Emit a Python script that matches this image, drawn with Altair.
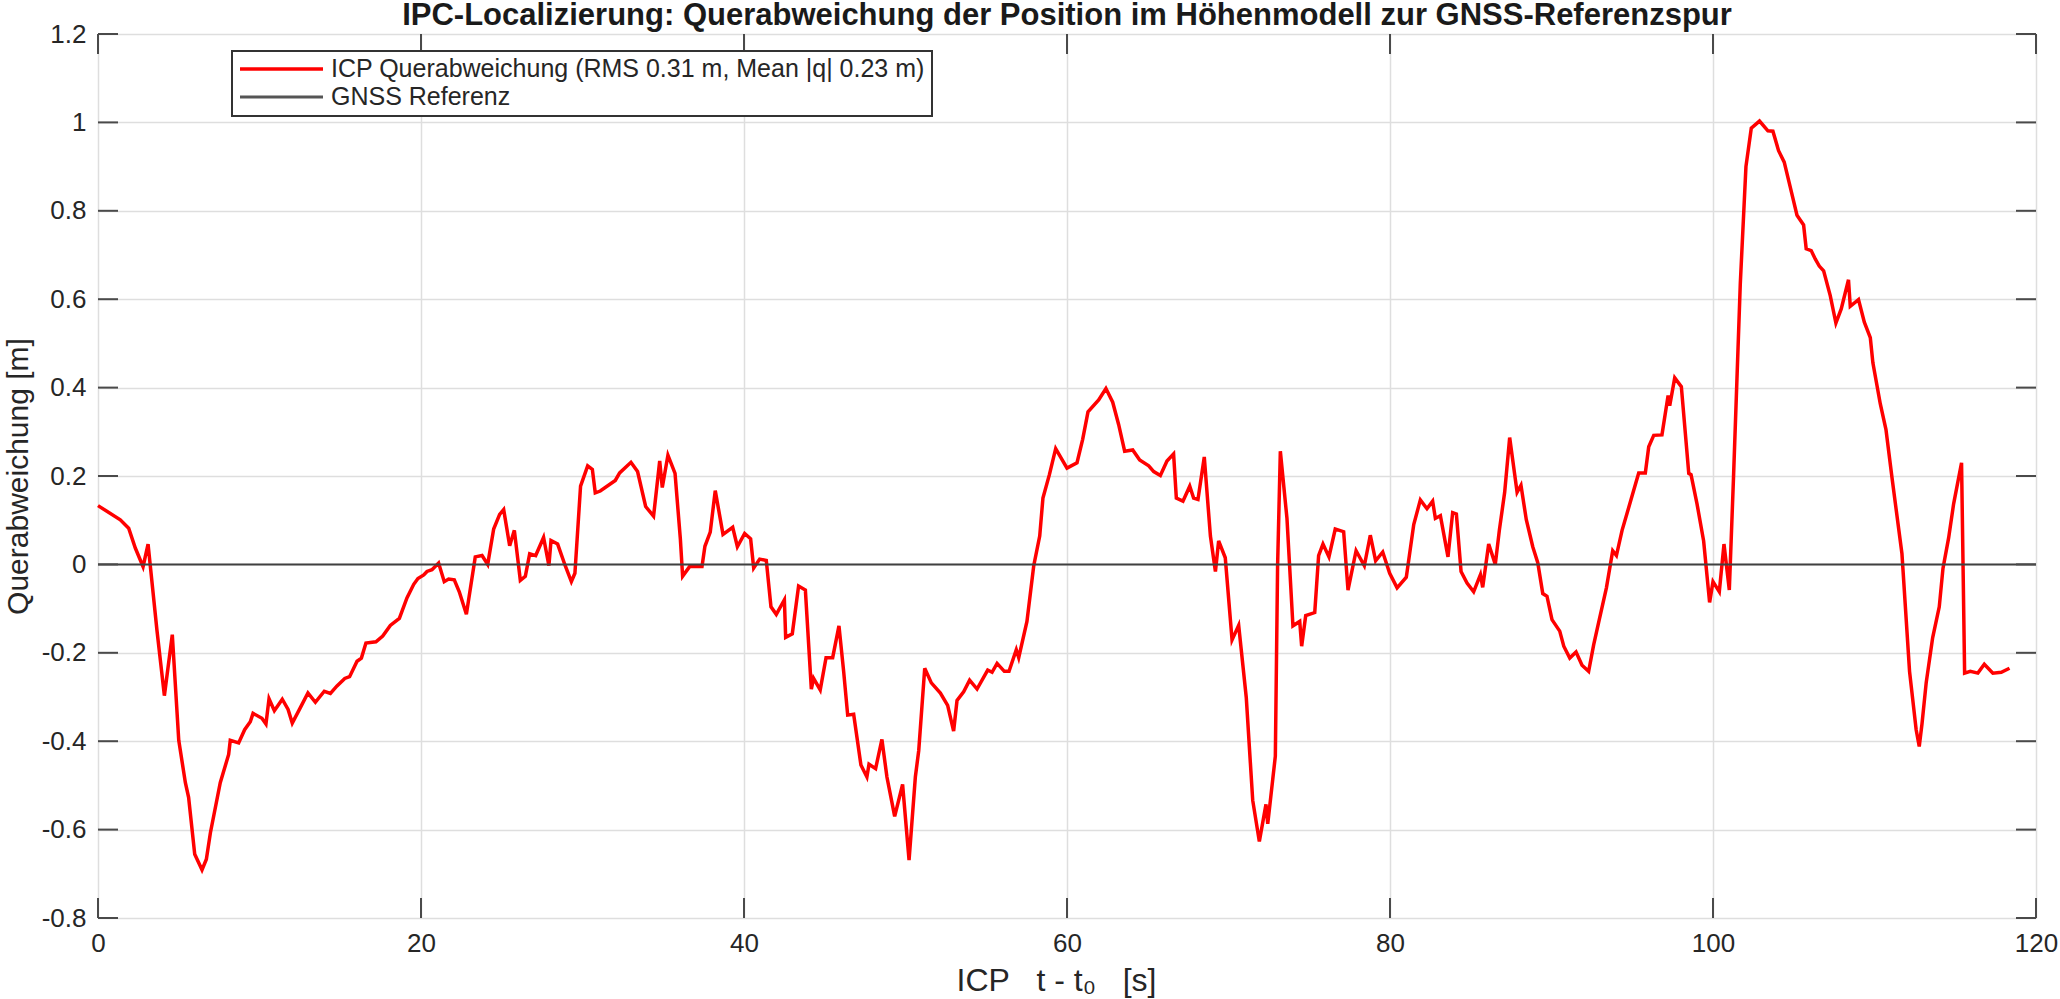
import altair as alt
import pandas as pd

# ---------------- data ----------------
t_seg1 = [0, 1.38, 1.90, 2.31, 2.79, 3.10, 3.65, 4.11, 4.60, 5.00,
          5.41, 5.61, 5.99, 6.44, 6.71, 6.96, 7.57, 8.09, 8.19, 8.71,
          9.08, 9.43, 9.60, 10.15, 10.40, 10.59, 10.92, 11.41, 11.77, 12.03,
          12.53, 13.00, 13.46, 14.01, 14.39, 14.80, 15.28, 15.58, 16.04, 16.31,
          16.59, 17.21, 17.63, 18.10, 18.66, 19.13, 19.55, 19.81, 20.17, 20.37,
          20.68, 21.09, 21.44, 21.71, 22.06, 22.37, 22.81, 23.36, 23.78, 24.13,
          24.50, 24.87, 25.12, 25.49, 25.78, 26.15, 26.46, 26.73]
q_seg1 = [0.133, 0.101, 0.082, 0.037, -0.005, 0.046, -0.149, -0.297, -0.159, -0.398,
          -0.494, -0.527, -0.656, -0.691, -0.667, -0.607, -0.494, -0.430, -0.398, -0.404,
          -0.374, -0.356, -0.337, -0.348, -0.361, -0.304, -0.331, -0.305, -0.328, -0.359,
          -0.324, -0.291, -0.312, -0.287, -0.292, -0.275, -0.258, -0.254, -0.219, -0.212,
          -0.178, -0.175, -0.162, -0.138, -0.122, -0.076, -0.045, -0.032, -0.024, -0.016,
          -0.012, 0.003, -0.039, -0.033, -0.035, -0.062, -0.113, 0.017, 0.020, 0.000,
          0.080, 0.113, 0.124, 0.042, 0.077, -0.036, -0.027, 0.024]

t_seg2 = [27.10, 27.59, 27.92, 28.05, 28.46, 28.93, 29.31, 29.53, 29.88, 30.32,
          30.61, 30.79, 31.10, 32.03, 32.30, 33.00, 33.41, 33.91, 34.40, 34.78,
          34.94, 35.29, 35.73, 36.06, 36.20, 36.63, 37.40, 37.58, 37.91, 38.22,
          38.70, 39.30, 39.59, 40.04, 40.41, 40.60, 40.97, 41.38, 41.67, 42.00,
          42.50, 42.58, 42.99, 43.38, 43.80, 44.17, 44.31, 44.72, 45.08, 45.49,
          45.88, 46.17, 46.42, 46.79, 47.24, 47.61, 47.74, 48.15, 48.54, 48.85,
          49.33, 49.82]
q_seg2 = [0.020, 0.061, -0.003, 0.054, 0.046, -0.003, -0.039, -0.020, 0.177, 0.223,
          0.215, 0.162, 0.166, 0.190, 0.207, 0.231, 0.210, 0.131, 0.109, 0.234,
          0.174, 0.247, 0.206, 0.057, -0.027, -0.005, -0.005, 0.041, 0.073, 0.167,
          0.068, 0.084, 0.040, 0.070, 0.058, -0.008, 0.012, 0.009, -0.096, -0.113,
          -0.080, -0.165, -0.157, -0.049, -0.058, -0.282, -0.258, -0.284, -0.211, -0.211,
          -0.139, -0.242, -0.341, -0.339, -0.454, -0.481, -0.452, -0.462, -0.396, -0.481,
          -0.570, -0.498]

t_seg3 = [50.22, 50.61, 50.82, 51.19, 51.60, 52.16, 52.61, 52.98, 53.19, 53.60,
          53.97, 54.43, 55.09, 55.36, 55.67, 56.12, 56.41, 56.86, 57.01, 57.52,
          57.94, 58.31, 58.51, 58.91, 59.30, 60.00, 60.62, 60.97, 61.30, 61.96,
          62.41, 62.83, 63.20, 63.57, 64.07, 64.50, 65.06, 65.37, 65.78, 66.19,
          66.60, 66.77, 67.18, 67.60, 67.84, 68.11, 68.50, 68.88, 69.19, 69.39,
          69.80, 70.22, 70.63, 71.10, 71.50, 71.91, 72.32, 72.43, 72.90, 73.04,
          73.21, 73.62, 73.99, 74.41, 74.53, 74.78, 75.34, 75.58, 75.85, 76.22,
          76.61, 77.13]
q_seg3 = [-0.669, -0.481, -0.421, -0.235, -0.268, -0.291, -0.319, -0.377, -0.308, -0.288,
          -0.262, -0.282, -0.239, -0.244, -0.224, -0.242, -0.242, -0.193, -0.211, -0.129,
          -0.003, 0.064, 0.150, 0.203, 0.262, 0.218, 0.230, 0.283, 0.345, 0.372,
          0.398, 0.367, 0.316, 0.256, 0.259, 0.236, 0.223, 0.210, 0.201, 0.234,
          0.250, 0.150, 0.143, 0.177, 0.150, 0.147, 0.243, 0.064, -0.016, 0.053,
          0.015, -0.171, -0.138, -0.301, -0.534, -0.627, -0.543, -0.587, -0.434, -0.003,
          0.256, 0.104, -0.139, -0.129, -0.185, -0.116, -0.109, 0.020, 0.046, 0.017,
          0.080, 0.074]

t_seg4 = [77.40, 77.90, 78.41, 78.78, 79.11, 79.55, 79.98, 80.44, 81.01, 81.47,
          81.88, 82.29, 82.64, 82.81, 83.12, 83.59, 83.88, 84.11, 84.40, 84.77,
          85.18, 85.60, 85.74, 86.11, 86.52, 86.77, 87.10, 87.41, 87.87, 88.11,
          88.44, 88.84, 89.15, 89.46, 89.72, 90.03, 90.51, 90.76, 91.13, 91.52,
          91.89, 92.30, 92.61, 92.92, 93.40, 93.79, 94.02, 94.37, 94.88, 95.40,
          95.81, 96.02, 96.33, 96.84, 97.22, 97.32, 97.63, 98.04, 98.50, 98.64,
          99.01, 99.42]
q_seg4 = [-0.058, 0.031, -0.003, 0.066, 0.008, 0.028, -0.020, -0.053, -0.029, 0.090,
          0.146, 0.126, 0.143, 0.104, 0.110, 0.017, 0.117, 0.114, -0.016, -0.042,
          -0.062, -0.023, -0.052, 0.046, 0.000, 0.077, 0.163, 0.287, 0.163, 0.179,
          0.101, 0.040, 0.004, -0.066, -0.072, -0.125, -0.151, -0.185, -0.212, -0.198,
          -0.228, -0.242, -0.182, -0.131, -0.053, 0.031, 0.020, 0.077, 0.141, 0.207,
          0.207, 0.266, 0.292, 0.293, 0.382, 0.359, 0.422, 0.402, 0.206, 0.203,
          0.137, 0.053]

t_seg5 = [99.79, 100.00, 100.39, 100.68, 101.01, 101.27, 101.69, 102.04, 102.37, 102.88,
          103.40, 103.71, 104.06, 104.41, 104.78, 105.20, 105.61, 105.77, 106.08, 106.33,
          106.58, 106.85, 107.26, 107.61, 107.94, 108.39, 108.50, 109.01, 109.37, 109.74,
          109.90, 110.36, 110.71, 111.08, 111.70, 112.17, 112.58, 112.77, 112.94, 113.20,
          113.60, 114.01, 114.24, 114.59, 114.90, 115.39, 115.58, 115.93, 116.40, 116.80,
          117.33, 117.85, 118.36]
q_seg5 = [-0.086, -0.039, -0.062, 0.046, -0.058, 0.197, 0.635, 0.900, 0.987, 1.003,
          0.981, 0.980, 0.936, 0.910, 0.854, 0.790, 0.768, 0.714, 0.710, 0.691,
          0.675, 0.664, 0.608, 0.546, 0.578, 0.644, 0.584, 0.599, 0.548, 0.513,
          0.456, 0.363, 0.305, 0.197, 0.024, -0.242, -0.374, -0.412, -0.361, -0.268,
          -0.166, -0.096, -0.009, 0.060, 0.137, 0.230, -0.246, -0.242, -0.246, -0.226,
          -0.246, -0.244, -0.235]

x_ticks = [0, 20, 40, 60, 80, 100, 120]
y_ticks = [-0.8, -0.6, -0.4, -0.2, 0, 0.2, 0.4, 0.6, 0.8, 1.0, 1.2]
reference_value = [0]
legend_labels = ["ICP Querabweichung (RMS 0.31 m, Mean |q| 0.23 m)", "GNSS Referenz"]
title_text = "IPC-Localizierung: Querabweichung der Position im Höhenmodell zur GNSS-Referenzspur"
x_title = "ICP\u00a0\u00a0 t - t\u2080\u00a0\u00a0 [s]"
y_title = "Querabweichung [m]"

# ---------------- chart ----------------
W, H = 1938, 884
FONT = "Liberation Sans"
TXT = "#262626"
FRAME = "#4a4a4a"
RED = "#ff0000"
GNSS = "#404040"

df = pd.DataFrame({
    "t": t_seg1 + t_seg2 + t_seg3 + t_seg4 + t_seg5,
    "q": q_seg1 + q_seg2 + q_seg3 + q_seg4 + q_seg5,
})
xt = pd.DataFrame({"t": x_ticks})
yt = pd.DataFrame({"q": y_ticks})
ref = pd.DataFrame({"q": reference_value})
one = pd.DataFrame({"k": [0]})

xscale = alt.Scale(domain=[0, 120], nice=False, zero=False)
yscale = alt.Scale(domain=[-0.8, 1.2], nice=False, zero=False)

xaxis = alt.Axis(
    values=x_ticks, grid=True, gridColor="#dedede", gridWidth=1.5,
    ticks=False, domain=False, labelFlush=False, labelOverlap=False,
    labelFont=FONT, labelFontSize=26, labelColor=TXT, labelPadding=12,
    title=x_title, titleFont=FONT, titleFontSize=32, titleFontWeight="normal",
    titleColor=TXT, titleX=958, titleY=72, titleAlign="center",
    titleBaseline="alphabetic",
)
yaxis = alt.Axis(
    values=y_ticks, grid=True, gridColor="#dedede", gridWidth=1.5,
    ticks=False, domain=False, labelFlush=False, labelOverlap=False,
    labelExpr="replace(format(datum.value, '.1~f'), '\u2212', '-')",
    labelFont=FONT, labelFontSize=26, labelColor=TXT, labelPadding=12,
    title=y_title, titleFont=FONT, titleFontSize=30, titleFontWeight="normal",
    titleColor=TXT, titleX=-71, titleY=H / 2, titleAngle=270,
    titleAlign="center", titleBaseline="alphabetic",
)

X = alt.X("t:Q", scale=xscale, axis=xaxis)
Y = alt.Y("q:Q", scale=yscale, axis=yaxis)

line = alt.Chart(df).mark_line(color=RED, strokeWidth=3.5).encode(x=X, y=Y)
zero = alt.Chart(ref).mark_rule(color=GNSS, strokeWidth=2).encode(y=Y)

tick_style = dict(color=FRAME, strokeWidth=2)
bt = alt.Chart(xt).mark_rule(**tick_style).encode(
    x=X, y=alt.value(H - 20), y2=alt.value(H))
tt = alt.Chart(xt).mark_rule(**tick_style).encode(
    x=X, y=alt.value(0), y2=alt.value(20))
lt = alt.Chart(yt).mark_rule(**tick_style).encode(
    y=Y, x=alt.value(0), x2=alt.value(20))
rt = alt.Chart(yt).mark_rule(**tick_style).encode(
    y=Y, x=alt.value(W - 20), x2=alt.value(W))

# legend box (MATLAB style, inside the axes, top-left)
box = alt.Chart(one).mark_rect(fill="white", stroke="#333333", strokeWidth=2).encode(
    x=alt.value(134), x2=alt.value(834), y=alt.value(17), y2=alt.value(82))
leg_l1 = alt.Chart(one).mark_rule(color=RED, strokeWidth=3.5).encode(
    x=alt.value(142), x2=alt.value(225), y=alt.value(35))
leg_l2 = alt.Chart(one).mark_rule(color="#555555", strokeWidth=3).encode(
    x=alt.value(142), x2=alt.value(225), y=alt.value(63))
leg_t1 = alt.Chart(one).mark_text(align="left", baseline="middle", font=FONT,
                                  fontSize=25, color=TXT).encode(
    x=alt.value(233), y=alt.value(35), text=alt.value(legend_labels[0]))
leg_t2 = alt.Chart(one).mark_text(align="left", baseline="middle", font=FONT,
                                  fontSize=25, color=TXT).encode(
    x=alt.value(233), y=alt.value(63), text=alt.value(legend_labels[1]))

chart = alt.layer(
    line, zero, bt, tt, lt, rt, box, leg_l1, leg_l2, leg_t1, leg_t2
).properties(
    width=W, height=H,
    title=alt.TitleParams(text=title_text, font=FONT, fontSize=31, fontWeight="bold",
                          color="#1a1a1a", anchor="middle", offset=6, dy=17),
    autosize=alt.AutoSizeParams(type="none"),
    padding={"left": 98, "top": 34, "right": 24, "bottom": 81},
).configure_view(
    stroke=FRAME, strokeWidth=2
).configure(background="white")

chart.save("out.html", embed_options={"renderer": "svg", "actions": False})
